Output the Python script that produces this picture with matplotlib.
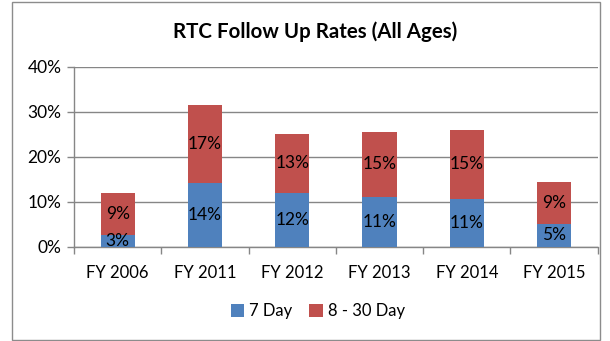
import numpy as np
import matplotlib.pyplot as plt
from matplotlib.patches import Rectangle
from matplotlib.ticker import PercentFormatter

plt.rcParams['font.family'] = ['Lato', 'DejaVu Sans']

years = ['FY 2006', 'FY 2011', 'FY 2012', 'FY 2013', 'FY 2014', 'FY 2015']
day7 = [0.027, 0.142, 0.119, 0.110, 0.106, 0.050]
day8_30 = [0.092, 0.174, 0.132, 0.146, 0.154, 0.093]

blue = '#4F81BD'
red = '#C0504D'
grid_col = '#868686'

fig = plt.figure(figsize=(6.10, 3.41), dpi=100)
W, H = 610, 341

# chart frame
fig.patches.append(Rectangle((12 / W, 1 / H), 588 / W, 338 / H, transform=fig.transFigure,
                             fill=False, edgecolor='#8c8c8c', linewidth=1.0))

ax = fig.add_axes([74 / W, (H - 246.7) / H, 523.7 / W, 180 / H])

x = np.arange(len(years))
b1 = ax.bar(x, day7, width=0.39, color=blue, label='7 Day', zorder=3)
b2 = ax.bar(x, day8_30, width=0.39, bottom=day7, color=red, label='8 - 30 Day', zorder=3)

for rects, vals, base in [(b1, day7, [0] * len(day7)), (b2, day8_30, day7)]:
    for r, v, b in zip(rects, vals, base):
        ax.text(r.get_x() + r.get_width() / 2, b + v / 2, f'{v * 100:.0f}%',
                ha='center', va='center', fontsize=12.5, color='black', zorder=4)

ax.set_xlim(-0.5, len(years) - 0.5)
ax.set_ylim(0, 0.40)
ax.set_yticks([0, 0.1, 0.2, 0.3, 0.4])
ax.yaxis.set_major_formatter(PercentFormatter(1.0, decimals=0))
ax.grid(axis='y', color=grid_col, linewidth=1.0, zorder=0)

# category separators as tick marks
ax.set_xticks(np.arange(-0.5, len(years)), minor=False)
ax.set_xticklabels([])
ax.set_xticks(x, minor=True)
ax.set_xticklabels(years, minor=True, fontsize=12)
ax.tick_params(axis='x', which='major', length=5, color=grid_col, width=1)
ax.tick_params(axis='x', which='minor', length=0, pad=13)
ax.tick_params(axis='y', length=5, color=grid_col, width=1, labelsize=12.5, pad=4)

for s in ['top', 'right']:
    ax.spines[s].set_visible(False)
for s in ['left', 'bottom']:
    ax.spines[s].set_color(grid_col)
    ax.spines[s].set_linewidth(1.0)

fig.text(315 / W, 1 - 32 / H, 'RTC Follow Up Rates (All Ages)', ha='center', va='center',
         fontsize=14.8, fontweight='bold')

fig.legend(handles=[b1, b2], loc='center', bbox_to_anchor=(318 / W, 1 - 311 / H), ncol=2,
           frameon=False, fontsize=12, handlelength=0.8, handleheight=0.8,
           handletextpad=0.3, columnspacing=1.0)

fig.savefig('out.png', dpi=100)
